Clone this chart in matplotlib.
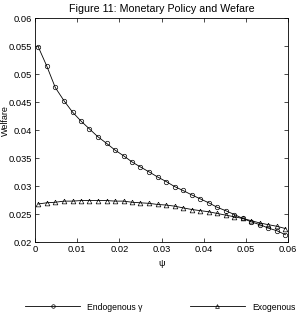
import matplotlib
matplotlib.use("Agg")
import matplotlib.pyplot as plt

plt.rcParams['font.family'] = ['Liberation Sans', 'DejaVu Sans']

psi = [0.0008, 0.0028, 0.0048, 0.0069, 0.0089, 0.0109, 0.0129, 0.0149, 0.0170, 0.0190,
       0.0210, 0.0230, 0.0250, 0.0271, 0.0291, 0.0311, 0.0331, 0.0351, 0.0372, 0.0392,
       0.0412, 0.0432, 0.0452, 0.0473, 0.0493, 0.0513, 0.0533, 0.0553, 0.0574, 0.0594]

endogenous = [0.0548, 0.0514, 0.0476, 0.0452, 0.0432, 0.0416, 0.0402, 0.0388, 0.0376, 0.0364,
              0.0354, 0.0343, 0.0334, 0.0325, 0.0316, 0.0308, 0.0299, 0.0292, 0.0284, 0.0277,
              0.0270, 0.0262, 0.0256, 0.0249, 0.0242, 0.0236, 0.0231, 0.0225, 0.0220, 0.0213]

exogenous = [0.0268, 0.0270, 0.0271, 0.0273, 0.0273, 0.0274, 0.0274, 0.0274, 0.0274, 0.0273,
             0.0273, 0.0271, 0.0270, 0.0269, 0.0267, 0.0266, 0.0264, 0.0261, 0.0258, 0.0256,
             0.0254, 0.0251, 0.0248, 0.0245, 0.0242, 0.0238, 0.0234, 0.0231, 0.0228, 0.0224]

xticks = [0, 0.01, 0.02, 0.03, 0.04, 0.05, 0.06]
xlabels = ["0", "0.01", "0.02", "0.03", "0.04", "0.05", "0.06"]
yticks = [0.02, 0.025, 0.03, 0.035, 0.04, 0.045, 0.05, 0.055, 0.06]
ylabels = ["0.02", "0.025", "0.03", "0.035", "0.04", "0.045", "0.05", "0.055", "0.06"]

fig = plt.figure(figsize=(2.98, 3.17), dpi=100)
ax = fig.add_axes([35/298, 1 - 242/317, 253/298, 224/317])

ax.plot(psi, endogenous, color='black', lw=0.6, marker='o', ms=3.2,
        mfc='none', mec='black', mew=0.5, label="Endogenous γ")
ax.plot(psi, exogenous, color='black', lw=0.6, marker='^', ms=3.4,
        mfc='none', mec='black', mew=0.5, label="Exogenous")

ax.set_xlim(0, 0.06)
ax.set_ylim(0.02, 0.06)
ax.set_xticks(xticks)
ax.set_xticklabels(xlabels)
ax.set_yticks(yticks)
ax.set_yticklabels(ylabels)
ax.tick_params(direction='in', top=True, right=True, length=3, width=0.5,
               labelsize=6.7, pad=2.5)
for s in ax.spines.values():
    s.set_linewidth(0.6)

ax.set_title("Figure 11: Monetary Policy and Wefare", fontsize=7.7, pad=4)
ax.set_xlabel("ψ", fontsize=6.7, labelpad=3)
ax.set_ylabel("Welfare", fontsize=6.5)
ax.yaxis.set_label_coords(-0.1, 0.54)

fig.legend(loc='center left', bbox_to_anchor=(25/298, 1 - 307/317), ncol=2,
           frameon=False, fontsize=6.2, handlelength=6.4, handletextpad=0.8,
           columnspacing=5.5, borderpad=0, borderaxespad=0, markerscale=0.8)

fig.savefig("out.png", dpi=100)
